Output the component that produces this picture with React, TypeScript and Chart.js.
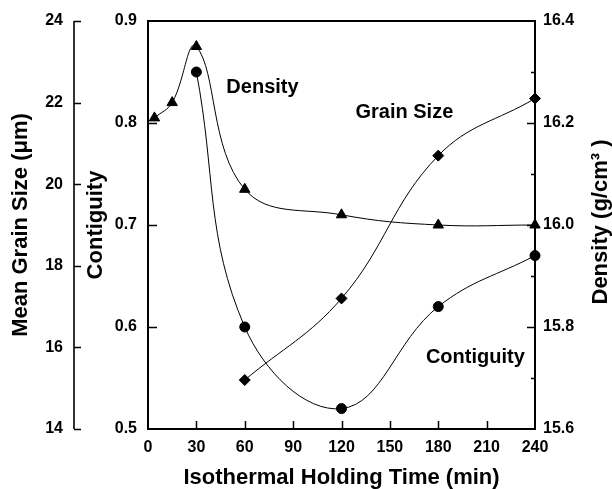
import React, { useEffect, useRef } from 'react';
import { Chart, registerables } from 'chart.js';

Chart.register(...registerables);

// ---- data ----
const timeTicks = [0, 30, 60, 90, 120, 150, 180, 210, 240];
const densityTime = [4, 15, 30, 60, 120, 180, 240];
const densityValues = [16.21, 16.24, 16.35, 16.07, 16.02, 16.0, 16.0];
const contiguityTime = [30, 60, 120, 180, 240];
const contiguityValues = [0.85, 0.6, 0.52, 0.62, 0.67];
const grainTime = [60, 120, 180, 240];
const grainValues = [15.2, 17.2, 20.7, 22.1];
const grainTicks = [14, 16, 18, 20, 22, 24];
const contiguityTicks = [0.5, 0.6, 0.7, 0.8, 0.9];
const densityTicks = [15.6, 15.8, 16.0, 16.2, 16.4];
const densityMinorTicks = [15.7, 15.9, 16.1, 16.3];
const seriesLabels = ['Density', 'Grain Size', 'Contiguity'];
const xTitle = 'Isothermal Holding Time (min)';
const grainTitle = 'Mean Grain Size (\u03BCm)';
const contiguityTitle = 'Contiguity';
const densityTitle = 'Density (g/cm\u00B3 )';

const FONT = '"Liberation Sans", Arial, Helvetica, sans-serif';

const overlay = {
  id: 'overlay',
  beforeDatasetsDraw(chart: any) {
    const { ctx, chartArea, scales } = chart;
    const { left, right, top, bottom } = chartArea;
    const { x, yG, yC, yD } = scales;
    ctx.save();
    ctx.strokeStyle = '#000';
    ctx.lineCap = 'butt';
    // plot frame
    ctx.lineWidth = 2;
    ctx.strokeRect(left, top, right - left, bottom - top);
    // outer grain-size axis
    const gx = yG.right;
    ctx.lineWidth = 1.6;
    ctx.beginPath();
    ctx.moveTo(gx, yG.getPixelForValue(grainTicks[grainTicks.length - 1]));
    ctx.lineTo(gx, yG.getPixelForValue(grainTicks[0]));
    ctx.stroke();
    ctx.lineWidth = 1.5;
    ctx.beginPath();
    for (const v of grainTicks) {
      const y = Math.round(yG.getPixelForValue(v)) + 0.5;
      ctx.moveTo(gx, y);
      ctx.lineTo(gx + 7, y);
    }
    // contiguity ticks (inward)
    for (const v of contiguityTicks.slice(1, -1)) {
      const y = Math.round(yC.getPixelForValue(v)) + 0.5;
      ctx.moveTo(left, y);
      ctx.lineTo(left + 9, y);
    }
    // x ticks (inward)
    for (const v of timeTicks.slice(1, -1)) {
      const xx = Math.round(x.getPixelForValue(v)) + 0.5;
      ctx.moveTo(xx, bottom);
      ctx.lineTo(xx, bottom - 8);
    }
    // density ticks (inward)
    for (const v of densityTicks.slice(1, -1)) {
      const y = Math.round(yD.getPixelForValue(v)) + 0.5;
      ctx.moveTo(right, y);
      ctx.lineTo(right - 8, y);
    }
    for (const v of densityMinorTicks) {
      const y = Math.round(yD.getPixelForValue(v)) + 0.5;
      ctx.moveTo(right, y);
      ctx.lineTo(right - 4, y);
    }
    ctx.stroke();
    ctx.restore();
  },
  afterDraw(chart: any) {
    const { ctx, chartArea, scales } = chart;
    const { x, yC } = scales;
    ctx.save();
    ctx.fillStyle = '#000';
    ctx.font = `bold 20px ${FONT}`;
    ctx.textAlign = 'center';
    ctx.textBaseline = 'middle';
    const pos = [
      [71, 0.835],
      [159, 0.81],
      [203, 0.5706],
    ];
    seriesLabels.forEach((t, i) => {
      ctx.fillText(t, x.getPixelForValue(pos[i][0]), yC.getPixelForValue(pos[i][1]));
    });
    // right axis title, reading upwards
    ctx.font = `bold 22px ${FONT}`;
    ctx.translate(601, (chartArea.top + chartArea.bottom) / 2 - 3);
    ctx.rotate(-Math.PI / 2);
    ctx.fillText(densityTitle, 0, 0);
    ctx.restore();
  },
};

export default function App() {
  const ref = useRef<HTMLCanvasElement | null>(null);
  useEffect(() => {
    if (!ref.current) return;
    Chart.defaults.font.family = FONT;
    Chart.defaults.color = '#000';

    const tickFont = { size: 16, weight: 'bold' as const, family: FONT };
    const titleFont = { size: 22, weight: 'bold' as const, family: FONT, lineHeight: 1 };
    const fixTicks = (arr: number[]) => (scale: any) => {
      scale.ticks = arr.map((v) => ({ value: v }));
    };

    const chart = new Chart(ref.current, {
      type: 'line',
      data: {
        datasets: [
          {
            label: 'Density',
            data: densityTime.map((t, i) => ({ x: t, y: densityValues[i] })),
            yAxisID: 'yD',
            borderColor: '#000',
            backgroundColor: '#000',
            borderWidth: 1,
            pointStyle: 'triangle',
            pointRadius: 6,
            pointBorderWidth: 1,
            tension: 0.4,
            clip: false as any,
          },
          {
            label: 'Contiguity',
            data: contiguityTime.map((t, i) => ({ x: t, y: contiguityValues[i] })),
            yAxisID: 'yC',
            borderColor: '#000',
            backgroundColor: '#000',
            borderWidth: 1,
            pointStyle: 'circle',
            pointRadius: 5,
            pointBorderWidth: 1,
            tension: 0.4,
            clip: false as any,
          },
          {
            label: 'Grain Size',
            data: grainTime.map((t, i) => ({ x: t, y: grainValues[i] })),
            yAxisID: 'yG',
            borderColor: '#000',
            backgroundColor: '#000',
            borderWidth: 1,
            pointStyle: 'rectRot',
            pointRadius: 5.5,
            pointBorderWidth: 1,
            tension: 0.4,
            clip: false as any,
          },
        ],
      },
      options: {
        animation: false,
        responsive: false,
        layout: { padding: { top: 21, left: 0, right: 0, bottom: 0 } },
        plugins: { legend: { display: false }, tooltip: { enabled: false } },
        scales: {
          x: {
            type: 'linear',
            min: 0,
            max: 240,
            afterBuildTicks: fixTicks(timeTicks),
            afterFit: (s: any) => { s.height = 60; },
            grid: { display: false, drawTicks: false },
            border: { display: false },
            ticks: { font: tickFont, padding: 9, maxRotation: 0, autoSkip: false },
            title: { display: true, text: xTitle, font: titleFont, padding: { top: 0, bottom: 0 } },
          },
          yG: {
            type: 'linear',
            position: 'left',
            weight: 2,
            min: 14,
            max: 24,
            afterBuildTicks: fixTicks(grainTicks),
            afterFit: (s: any) => { s.width = 74; },
            grid: { display: false, drawTicks: false },
            border: { display: false },
            ticks: { font: tickFont, padding: 11, callback: (v: any) => String(v) },
            title: { display: true, text: grainTitle, font: titleFont, padding: { top: 10, bottom: 0 } },
          },
          yC: {
            type: 'linear',
            position: 'left',
            weight: 1,
            min: 0.5,
            max: 0.9,
            afterBuildTicks: fixTicks(contiguityTicks),
            afterFit: (s: any) => { s.width = 74; },
            grid: { display: false, drawTicks: false },
            border: { display: false },
            ticks: { font: tickFont, padding: 11, callback: (v: any) => Number(v).toFixed(1) },
            title: { display: true, text: contiguityTitle, font: titleFont, padding: { top: 11, bottom: 0 } },
          },
          yD: {
            type: 'linear',
            position: 'right',
            min: 15.6,
            max: 16.4,
            afterBuildTicks: fixTicks(densityTicks),
            afterFit: (s: any) => { s.width = 77; },
            grid: { display: false, drawTicks: false },
            border: { display: false },
            ticks: { font: tickFont, padding: 8, callback: (v: any) => Number(v).toFixed(1) },
            title: { display: false },
          },
        },
      } as any,
      plugins: [overlay],
    });
    return () => chart.destroy();
  }, []);

  return (
    <div style={{ position: 'fixed', left: 0, top: 0, width: 612, height: 489, background: '#fff' }}>
      <canvas ref={ref} width={612} height={489} style={{ width: 612, height: 489, display: 'block' }} />
    </div>
  );
}
